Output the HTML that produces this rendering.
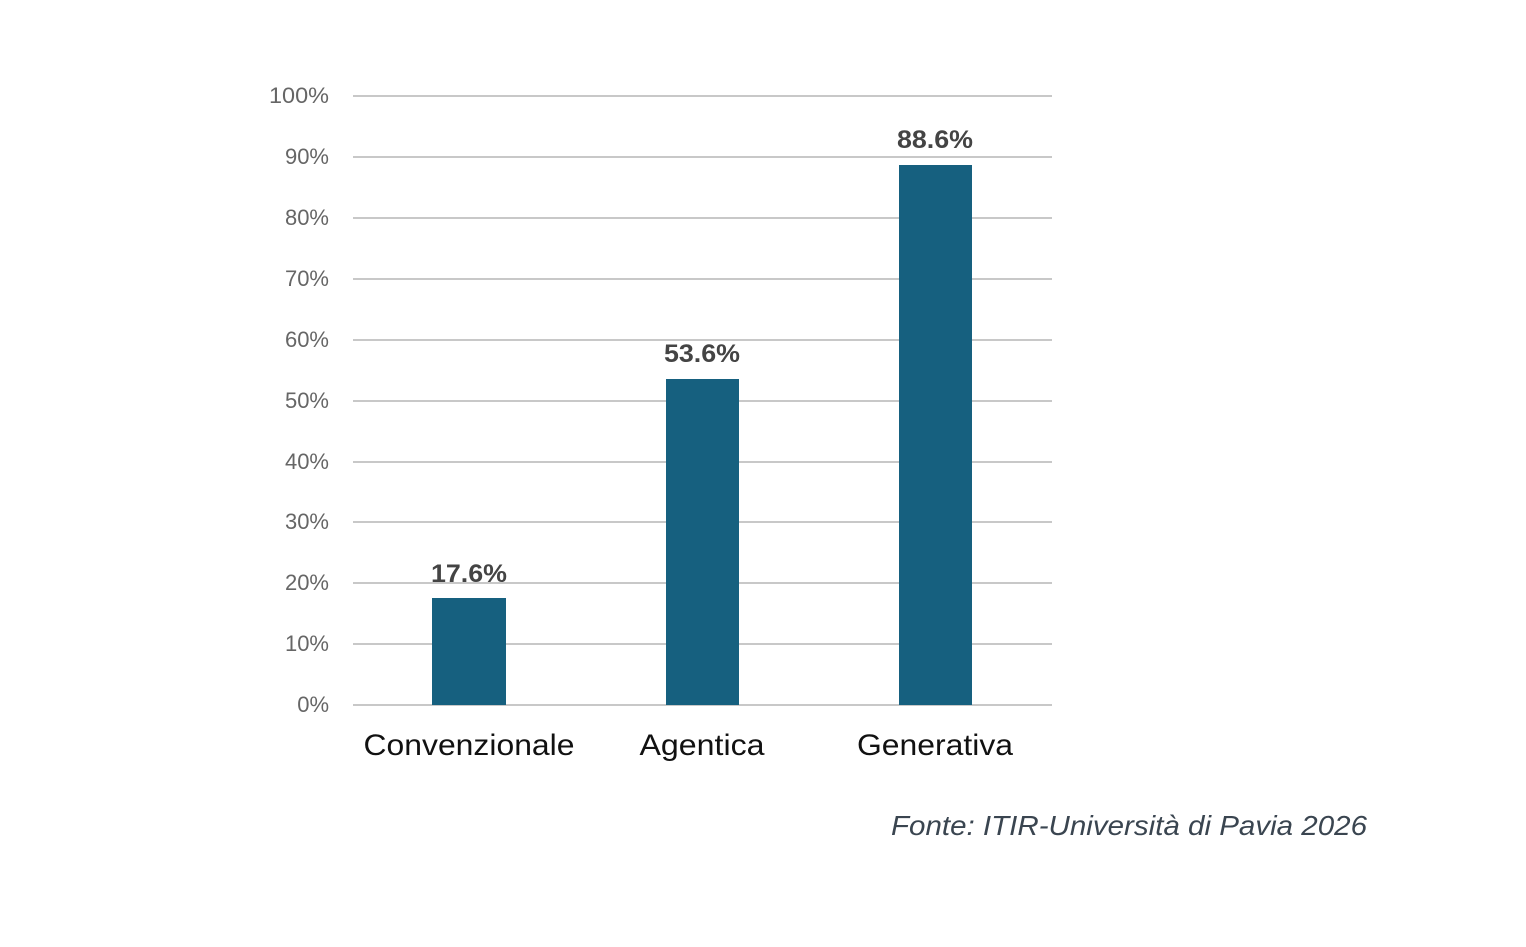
<!DOCTYPE html>
<html><head><meta charset="utf-8"><style>body{margin:0;background:#fff}</style></head><body>
<svg width="1526" height="942" xmlns="http://www.w3.org/2000/svg" font-family="Liberation Sans, sans-serif">
<g stroke="#c8c8c8" stroke-width="2">
<line x1="353" x2="1052" y1="96" y2="96"/><line x1="353" x2="1052" y1="157" y2="157"/>
<line x1="353" x2="1052" y1="218" y2="218"/><line x1="353" x2="1052" y1="279" y2="279"/>
<line x1="353" x2="1052" y1="340" y2="340"/><line x1="353" x2="1052" y1="401" y2="401"/>
<line x1="353" x2="1052" y1="462" y2="462"/><line x1="353" x2="1052" y1="522" y2="522"/>
<line x1="353" x2="1052" y1="583" y2="583"/><line x1="353" x2="1052" y1="644" y2="644"/>
<line x1="353" x2="1052" y1="705" y2="705"/>
</g>
<g fill="#666" font-size="22" text-anchor="end">
<text x="329" y="103" textLength="60" lengthAdjust="spacingAndGlyphs">100%</text><text x="329" y="164">90%</text><text x="329" y="225">80%</text>
<text x="329" y="286">70%</text><text x="329" y="347">60%</text><text x="329" y="408">50%</text>
<text x="329" y="469">40%</text><text x="329" y="529">30%</text><text x="329" y="590">20%</text>
<text x="329" y="651">10%</text><text x="329" y="712">0%</text>
</g>
<g fill="#16607f">
<rect x="432" y="598" width="74" height="107"/>
<rect x="666" y="379" width="73" height="326"/>
<rect x="899" y="165" width="73" height="540"/>
</g>
<g fill="#444" font-size="25" font-weight="bold" text-anchor="middle">
<text x="469" y="582" textLength="76" lengthAdjust="spacingAndGlyphs">17.6%</text><text x="702" y="362" textLength="76" lengthAdjust="spacingAndGlyphs">53.6%</text><text x="935" y="148" textLength="76" lengthAdjust="spacingAndGlyphs">88.6%</text>
</g>
<g fill="#111" font-size="30" text-anchor="middle">
<text x="469" y="755" textLength="211" lengthAdjust="spacingAndGlyphs">Convenzionale</text><text x="702" y="755" textLength="125" lengthAdjust="spacingAndGlyphs">Agentica</text><text x="935" y="755" textLength="156" lengthAdjust="spacingAndGlyphs">Generativa</text>
</g>
<text x="891" y="835" font-size="28" font-style="italic" fill="#3a4550" textLength="476" lengthAdjust="spacingAndGlyphs">Fonte: ITIR-Università di Pavia 2026</text>
</svg>
</body></html>
